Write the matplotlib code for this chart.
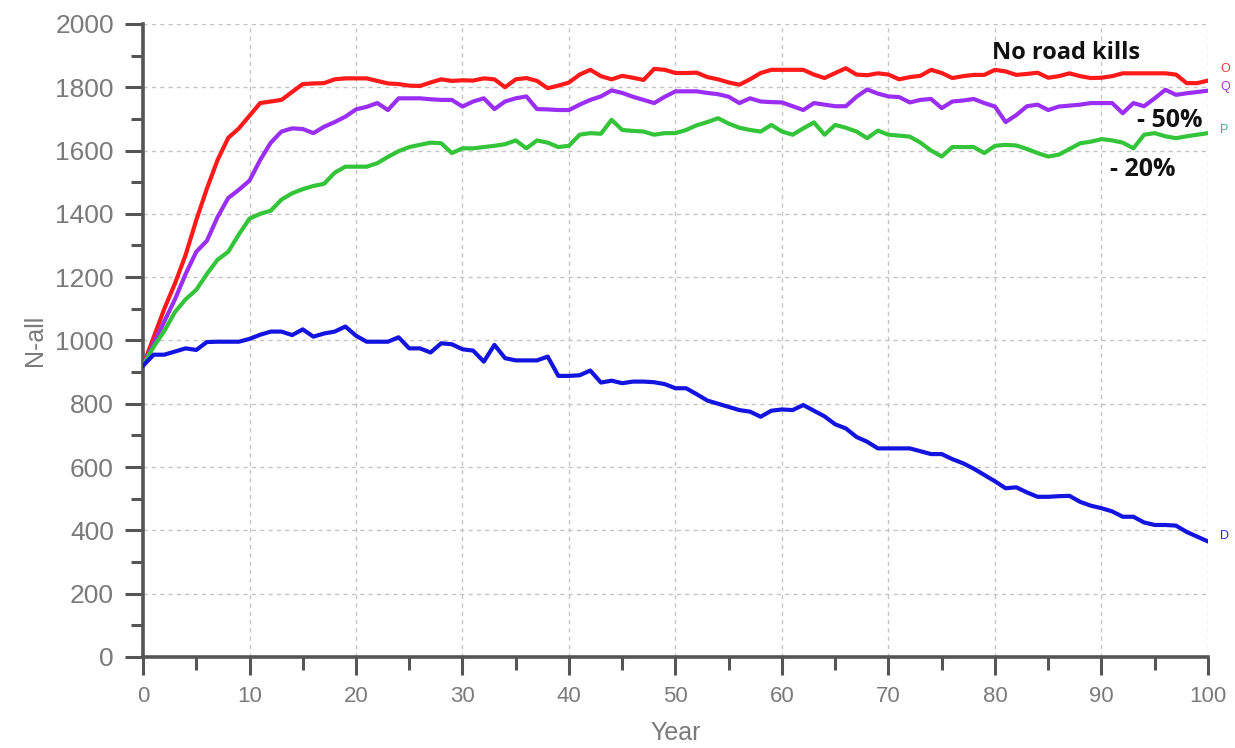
import matplotlib
matplotlib.use("Agg")
import matplotlib.pyplot as plt
from matplotlib.ticker import MultipleLocator

years = list(range(0, 101))

no_road_kills = [920, 1010, 1100, 1180, 1270, 1380, 1480, 1570, 1640, 1670,
                 1710, 1750, 1755, 1760, 1785, 1810, 1812, 1813, 1825, 1828,
                 1828, 1828, 1820, 1812, 1810, 1805, 1804, 1815, 1825, 1820,
                 1822, 1821, 1828, 1825, 1800, 1825, 1829, 1820, 1797, 1805,
                 1815, 1840, 1855, 1835, 1825, 1836, 1830, 1823, 1858, 1855,
                 1845, 1845, 1846, 1832, 1825, 1815, 1808, 1825, 1845, 1855,
                 1855, 1855, 1855, 1840, 1829, 1845, 1860, 1840, 1838, 1844,
                 1840, 1825, 1832, 1836, 1855, 1845, 1829, 1835, 1839, 1839,
                 1855, 1850, 1839, 1842, 1846, 1830, 1835, 1844, 1835, 1829,
                 1830, 1835, 1844, 1844, 1844, 1844, 1844, 1840, 1813, 1813,
                 1821]

minus_50 = [920, 990, 1060, 1130, 1210, 1280, 1315, 1390, 1450, 1476,
            1505, 1570, 1625, 1660, 1670, 1668, 1655, 1675, 1690, 1707,
            1730, 1738, 1750, 1728, 1765, 1765, 1765, 1762, 1760, 1760,
            1739, 1755, 1765, 1731, 1755, 1765, 1771, 1731, 1730, 1728,
            1728, 1745, 1760, 1771, 1790, 1782, 1770, 1760, 1750, 1770,
            1787, 1787, 1787, 1782, 1778, 1770, 1750, 1765, 1755, 1753,
            1752, 1740, 1728, 1750, 1745, 1740, 1740, 1770, 1793, 1780,
            1771, 1769, 1752, 1760, 1763, 1734, 1755, 1758, 1763, 1750,
            1739, 1690, 1712, 1740, 1745, 1728, 1739, 1742, 1745, 1750,
            1750, 1750, 1718, 1750, 1740, 1765, 1792, 1776, 1781, 1785,
            1789]

minus_20 = [920, 980, 1030, 1090, 1130, 1160, 1210, 1255, 1280, 1335,
            1385, 1400, 1410, 1445, 1465, 1478, 1488, 1495, 1530, 1549,
            1549, 1549, 1560, 1580, 1598, 1611, 1618, 1625, 1623, 1592,
            1607, 1607, 1611, 1615, 1620, 1632, 1607, 1632, 1625, 1611,
            1615, 1650, 1655, 1653, 1697, 1665, 1662, 1660, 1650, 1655,
            1655, 1665, 1680, 1690, 1702, 1685, 1672, 1665, 1660, 1681,
            1660, 1650, 1670, 1689, 1650, 1681, 1672, 1660, 1639, 1663,
            1650, 1647, 1644, 1625, 1600, 1581, 1611, 1611, 1611, 1592,
            1615, 1618, 1616, 1605, 1592, 1581, 1587, 1605, 1623, 1628,
            1636, 1632, 1625, 1607, 1650, 1655, 1645, 1639, 1645, 1650,
            1655]

current = [920, 955, 955, 965, 975, 970, 995, 996, 996, 996,
           1005, 1018, 1028, 1028, 1017, 1035, 1012, 1022, 1028, 1044,
           1015, 996, 996, 996, 1010, 975, 975, 962, 991, 988,
           972, 968, 933, 986, 944, 937, 937, 937, 949, 888,
           888, 890, 905, 867, 873, 865, 870, 870, 868, 862,
           849, 849, 830, 810, 800, 790, 780, 775, 759, 778,
           782, 780, 796, 778, 760, 735, 722, 695, 680, 659,
           659, 659, 659, 650, 641, 641, 625, 612, 595, 575,
           555, 533, 536, 520, 506, 506, 508, 509, 490, 478,
           470, 460, 443, 443, 425, 417, 417, 415, 395, 380,
           365]

series_names = ["O", "Q", "P", "D"]
series_values = [no_road_kills, minus_50, minus_20, current]
line_colors = ["#ff1a1a", "#9a2ef2", "#34c43a", "#1414e0"]
label_colors = ["#ee3b3b", "#a436c8", "#36b48c", "#2a2ad0"]
label_dy = [8, 3, 2, 4]  # offset of end labels, points

x_ticks = list(range(0, 101, 10))
y_ticks = list(range(0, 2001, 200))

fig = plt.figure(figsize=(12.35, 7.48), dpi=100)
ax = fig.add_axes([0.1158, 0.1217, 0.8623, 0.8463])

for name, vals, col, lcol, dy in zip(series_names, series_values, line_colors,
                                     label_colors, label_dy):
    ax.plot(years, vals, color=col, lw=3.0, solid_joinstyle="round", zorder=3)
    ax.annotate(name, xy=(years[-1], vals[-1]), xytext=(9, dy),
                textcoords="offset points", color=lcol, fontsize=9,
                ha="left", va="center", family="Liberation Sans",
                annotation_clip=False)

ax.set_xlim(0, 100)
ax.set_ylim(0, 2000)
ax.set_xticks(x_ticks)
ax.set_yticks(y_ticks)
ax.xaxis.set_minor_locator(MultipleLocator(5))
ax.yaxis.set_minor_locator(MultipleLocator(100))

ax.grid(True, which="major", color="#c4c4c4", linestyle=(0, (3, 3)), lw=1.0, zorder=0)

for s in ["top", "right"]:
    ax.spines[s].set_visible(False)
for s in ["left", "bottom"]:
    ax.spines[s].set_color("#555555")
    ax.spines[s].set_linewidth(2.6)

ax.tick_params(which="major", direction="out", length=13, width=2.2, color="#555555")
ax.tick_params(which="minor", direction="out", length=9, width=2.2, color="#555555")
ax.tick_params(axis="y", which="major", labelsize=19, labelcolor="#7a7a7a", pad=8)
ax.tick_params(axis="x", which="major", labelsize=16, labelcolor="#7a7a7a", pad=8)
for lab in ax.get_xticklabels() + ax.get_yticklabels():
    lab.set_family("Liberation Sans")

ax.set_xlabel("Year", fontsize=18, color="#7a7a7a", family="Liberation Sans", labelpad=10)
ax.set_ylabel("N-all", fontsize=18, color="#7a7a7a", family="Liberation Sans", labelpad=6)

ax.text(79.7, 1909, "No road kills", fontsize=17, fontweight="bold", color="#111111",
        family="Open Sans", ha="left", va="center", zorder=5)
ax.text(93.3, 1694, "- 50%", fontsize=18, fontweight="bold", color="#111111",
        family="Open Sans", ha="left", va="center", zorder=5)
ax.text(90.8, 1539, "- 20%", fontsize=18, fontweight="bold", color="#111111",
        family="Open Sans", ha="left", va="center", zorder=5)

fig.savefig("out.png", dpi=100, facecolor="white")
